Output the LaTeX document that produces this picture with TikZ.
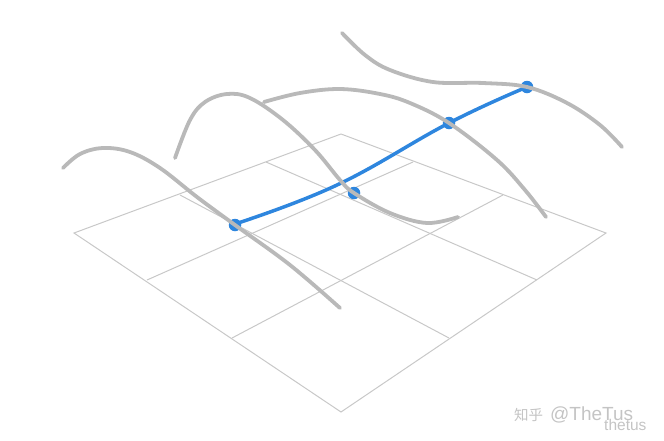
\documentclass[tikz,border=0pt]{standalone}
\usepackage{fontspec}
\newfontfamily\cjk{Noto Sans CJK SC}
\newfontfamily\wmsans{Liberation Sans}
\definecolor{gridc}{HTML}{C8C8C8}
\definecolor{curvec}{HTML}{B9B9B9}
\definecolor{bluec}{HTML}{2E86DE}
\definecolor{wmc}{HTML}{C4C4C4}
\tikzset{
  gridline/.style={draw=gridc, line width=1pt},
  graycurve/.style={draw=curvec, line width=3.8pt, line cap=round},
  bluecurve/.style={draw=bluec, line width=3.5pt, line cap=round},
  bluedot/.style={circle, fill=bluec, minimum size=12.5pt, inner sep=0pt},
  wmtext/.style={anchor=base west, inner sep=0pt, text=wmc},
}
\begin{document}
\begin{tikzpicture}[x=1pt,y=-1pt]
\useasboundingbox (0,0) rectangle (664,440);
% grid corners and edge points
\coordinate (L) at (74,233);
\coordinate (T) at (341,134);
\coordinate (R) at (606,233);
\coordinate (B) at (341,412);
\coordinate (a1) at (180,195);
\coordinate (a2) at (266,162);
\coordinate (b1) at (413,162);
\coordinate (b2) at (503,195);
\coordinate (c1) at (147,280);
\coordinate (c2) at (232,338);
\coordinate (d1) at (537,280);
\coordinate (d2) at (449,338);
\draw[gridline] (L) -- (T) -- (R) -- (B) -- cycle;
\draw[gridline] (a1) -- (d2);
\draw[gridline] (a2) -- (d1);
\draw[gridline] (b1) -- (c1);
\draw[gridline] (b2) -- (c2);
% blue curve
\draw[bluecurve] plot[smooth, tension=0.7] coordinates {(235,224) (337,185) (449,123) (527,87)};
\node[bluedot] (p1) at (235,225) {};
\node[bluedot] (p2) at (354,193) {};
\node[bluedot] (p3) at (449,123) {};
\node[bluedot] (p4) at (527,87) {};
% gray curves
\draw[graycurve] plot[smooth, tension=0.6] coordinates {(63,168) (80,154) (103,148) (130,152) (160,168) (197,197) (235,225) (290,265) (340,308)};
\draw[graycurve] plot[smooth, tension=0.6] coordinates {(175,158) (190,120) (205,102) (227,94) (250,98) (283,120) (315,150) (340,180) (354,193) (390,213) (427,223) (458,217)};
\draw[graycurve] plot[smooth, tension=0.6] coordinates {(264,102) (300,93) (340,89) (380,94) (410,103) (449,123) (497,160) (525,190) (546,217)};
\draw[graycurve] plot[smooth, tension=0.6] coordinates {(342,33) (365,55) (390,70) (433,82) (483,83) (527,87) (567,103) (600,125) (622,147)};
% watermark
\node[wmtext, font=\cjk\fontsize{14.5}{15}\selectfont] (wm1) at (514,420) {知乎};
\node[wmtext, font=\wmsans\fontsize{19}{19}\selectfont] (wm2) at (550,420) {@TheTus};
\node[wmtext, font=\wmsans\fontsize{15.5}{16}\selectfont] (wm3) at (604,430) {thetus};
\end{tikzpicture}
\end{document}
